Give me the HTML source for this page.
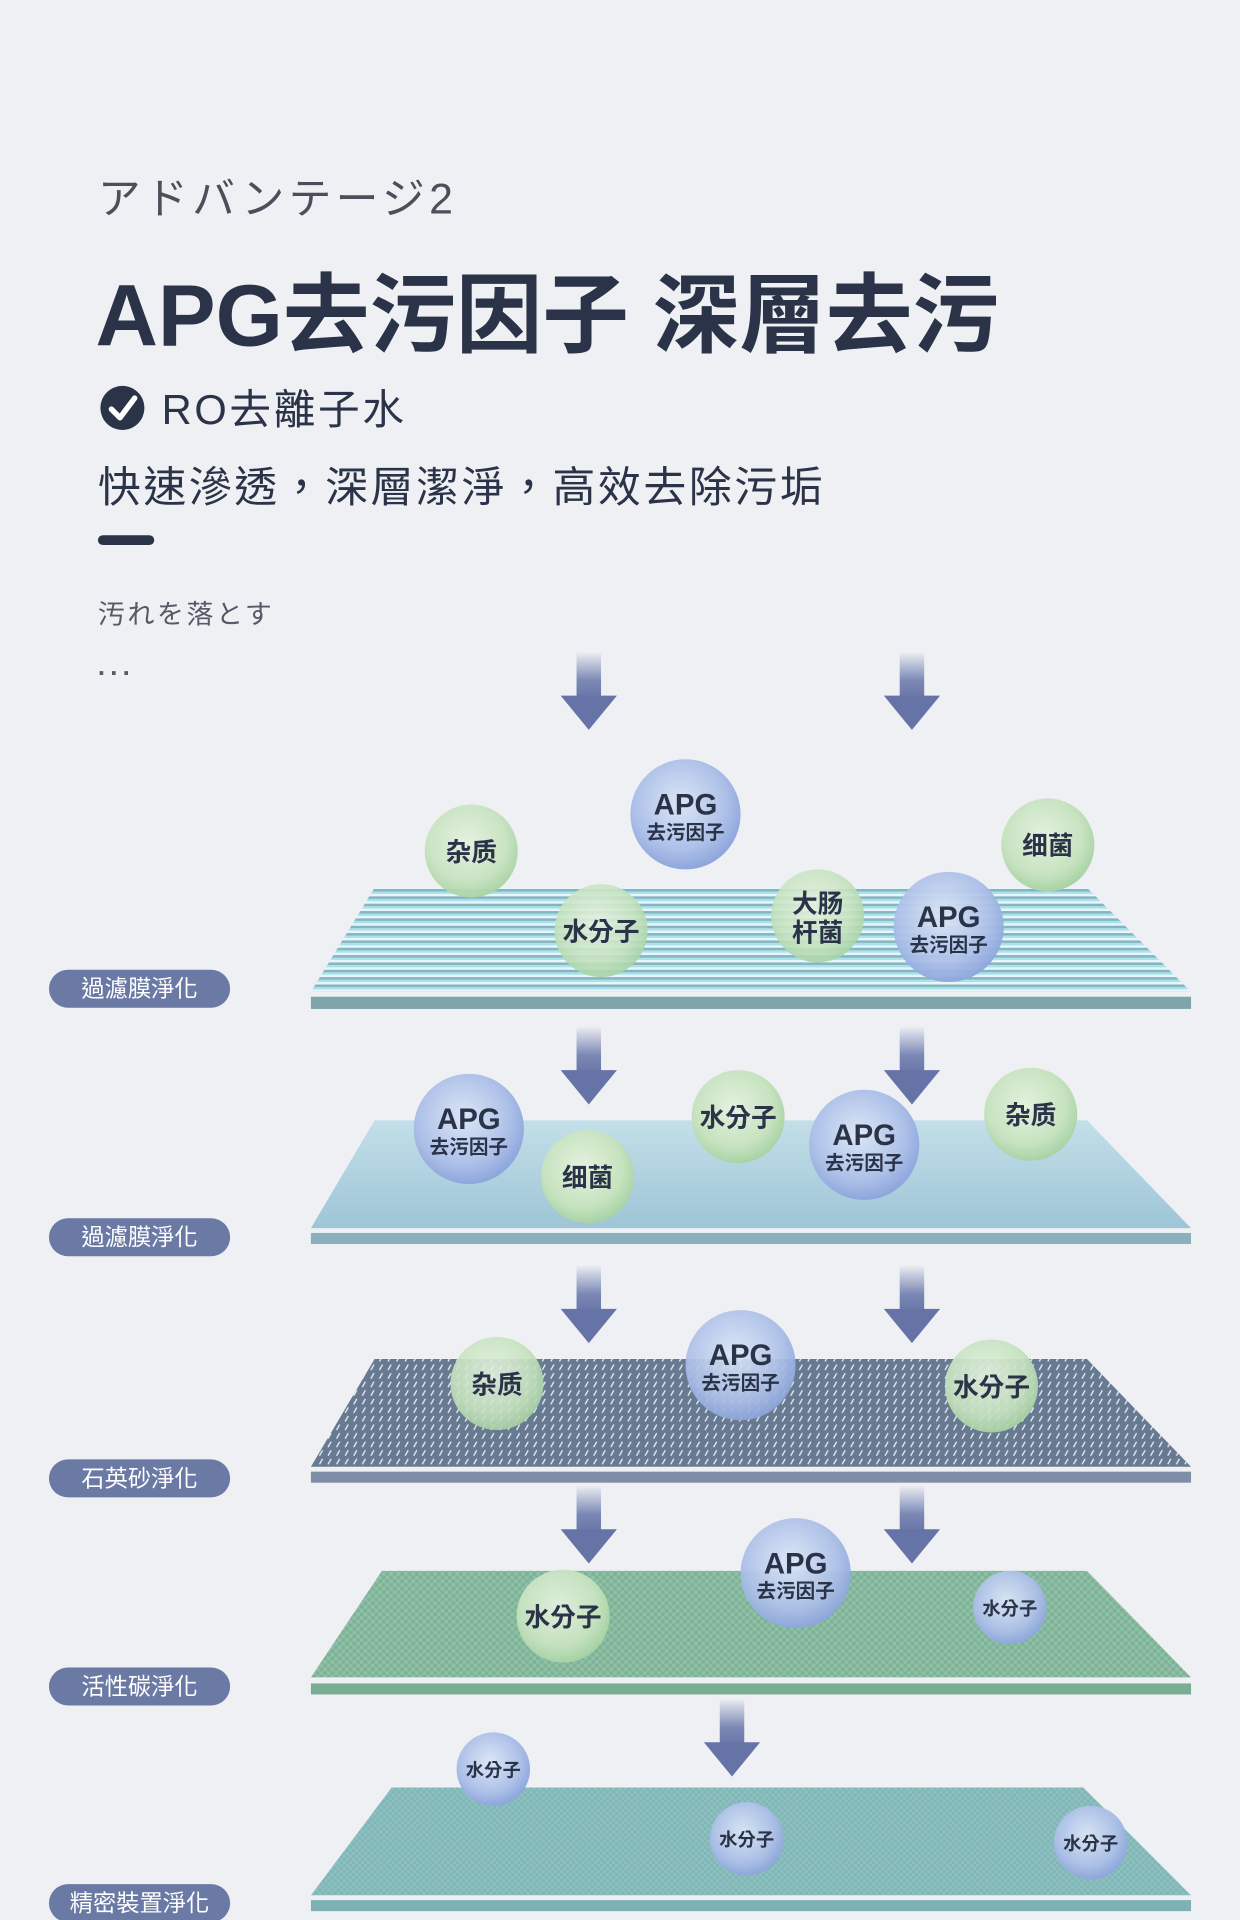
<!DOCTYPE html>
<html><head><meta charset="utf-8"><style>
html,body{margin:0;padding:0;background:#eef0f4;}
svg{display:block;}
text{font-family:"Liberation Sans","Noto Sans CJK TC","Noto Sans CJK JP",sans-serif;}
</style></head><body>
<svg width="1240" height="1920" viewBox="0 0 1013 1568" xmlns="http://www.w3.org/2000/svg">
<defs>
<pattern id="stripe" width="10" height="6" patternUnits="userSpaceOnUse">
<rect width="10" height="6" fill="#e6f6fa"/><rect y="0" width="10" height="2.2" fill="#86b5c0"/><rect y="2.2" width="10" height="1.8" fill="#a9e2ee"/>
</pattern>
<pattern id="dash" width="7" height="7" patternUnits="userSpaceOnUse">
<rect width="7" height="7" fill="#687a92"/><line x1="2" y1="6" x2="4.5" y2="1.5" stroke="#e8edf3" stroke-width="1.1"/>
</pattern>
<pattern id="check" width="6" height="6" patternUnits="userSpaceOnUse">
<rect width="6" height="6" fill="#7db296"/><rect width="3" height="3" fill="#90c0a7"/><rect x="3" y="3" width="3" height="3" fill="#90c0a7"/>
</pattern>
<pattern id="check2" width="5" height="5" patternUnits="userSpaceOnUse">
<rect width="5" height="5" fill="#7fb6b6"/><rect width="2.5" height="2.5" fill="#8fc0c1"/><rect x="2.5" y="2.5" width="2.5" height="2.5" fill="#8fc0c1"/>
</pattern>
<linearGradient id="l2" x1="0" y1="0" x2="0" y2="1"><stop offset="0" stop-color="#c3dfe9"/><stop offset="1" stop-color="#9ec5d6"/></linearGradient>
<linearGradient id="arr" x1="0" y1="0" x2="0" y2="1"><stop offset="0" stop-color="#eef0f4"/><stop offset="0.6" stop-color="#7b87b4"/><stop offset="1" stop-color="#6673a6"/></linearGradient>
<radialGradient id="gb" cx="0.45" cy="0.4" r="0.6"><stop offset="0" stop-color="#e4f1df"/><stop offset="0.7" stop-color="#c7e3c0"/><stop offset="1" stop-color="#a9d3a5"/></radialGradient>
<radialGradient id="bb" cx="0.45" cy="0.4" r="0.6"><stop offset="0" stop-color="#dbe6f6"/><stop offset="0.7" stop-color="#adc0e8"/><stop offset="1" stop-color="#8ea6dc"/></radialGradient>
<g id="arrow"><rect x="-10" y="0" width="20" height="40" fill="url(#arr)"/><polygon points="-23,36 23,36 0,64" fill="#6673a6"/></g>
</defs>
<rect width="1013" height="1568" fill="#eef0f4"/>

<text x="80" y="174" font-size="35" fill="#4a4f5c" textLength="290" lengthAdjust="spacing">アドバンテージ2</text>
<text x="78" y="282" font-size="71" font-weight="bold" fill="#2a3347" textLength="738" lengthAdjust="spacingAndGlyphs">APG去污因子 深層去污</text>
<circle cx="100" cy="333" r="18" fill="#2a3347"/>
<polyline points="91,334 98,341 110,325" fill="none" stroke="#fff" stroke-width="4.5" stroke-linecap="round" stroke-linejoin="round"/>
<text x="132" y="346" font-size="34" fill="#2a3347" textLength="198" lengthAdjust="spacing">RO去離子水</text>
<text x="80" y="410" font-size="35" fill="#2a3347" textLength="592" lengthAdjust="spacing">快速滲透，深層潔淨，高效去除污垢</text>
<rect x="80" y="437" width="46" height="8" rx="4" fill="#2a3347"/>
<text x="80" y="509" font-size="22" fill="#555a66" textLength="142" lengthAdjust="spacing">汚れを落とす</text>
<text x="80" y="551" font-size="21" fill="#555a66" font-weight="bold" textLength="26" lengthAdjust="spacing">...</text>

<g fill="#6b79a5">
<rect x="40" y="792" width="148" height="31" rx="15.5"/>
<rect x="40" y="995" width="148" height="31" rx="15.5"/>
<rect x="40" y="1192" width="148" height="31" rx="15.5"/>
<rect x="40" y="1362" width="148" height="31" rx="15.5"/>
<rect x="40" y="1539" width="148" height="31" rx="15.5"/>
</g>
<g fill="#fff" font-size="19" text-anchor="middle">
<text x="114" y="814">過濾膜淨化</text>
<text x="114" y="1017">過濾膜淨化</text>
<text x="114" y="1214">石英砂淨化</text>
<text x="114" y="1384">活性碳淨化</text>
<text x="114" y="1561">精密裝置淨化</text>
</g>

<polygon points="306,725 888,725 973,810 254,810" fill="url(#stripe)"/>
<rect x="254" y="814" width="719" height="10" fill="#7fa5aa"/>
<polygon points="306,915 888,915 973,1003 254,1003" fill="url(#l2)"/>
<rect x="254" y="1007" width="719" height="9" fill="#8ab0bc"/>
<polygon points="306,1110 888,1110 973,1198 254,1198" fill="url(#dash)"/>
<rect x="254" y="1202" width="719" height="9" fill="#7f8da6"/>
<polygon points="312,1283 888,1283 973,1370 254,1370" fill="url(#check)"/>
<rect x="254" y="1375" width="719" height="9" fill="#7aae93"/>
<polygon points="320,1460 885,1460 973,1548 254,1548" fill="url(#check2)"/>
<rect x="254" y="1552" width="719" height="9" fill="#7eb0b4"/>

<use href="#arrow" x="481" y="532"/><use href="#arrow" x="745" y="532"/>
<use href="#arrow" x="481" y="838"/><use href="#arrow" x="745" y="838"/>
<use href="#arrow" x="481" y="1033"/><use href="#arrow" x="745" y="1033"/>
<use href="#arrow" x="481" y="1213"/><use href="#arrow" x="745" y="1213"/>
<use href="#arrow" x="598" y="1387"/>

<g font-weight="bold" fill="#2a3347" text-anchor="middle">
<circle cx="385" cy="695" r="38" fill="url(#gb)" opacity="0.95"/><text x="385" y="703" font-size="21">杂质</text>
<circle cx="560" cy="665" r="45" fill="url(#bb)"/><text x="560" y="665" font-size="24">APG</text><text x="560" y="685" font-size="16">去污因子</text>
<circle cx="856" cy="690" r="38" fill="url(#gb)"/><text x="856" y="698" font-size="21">细菌</text>
<circle cx="491" cy="760" r="38" fill="url(#gb)" opacity="0.9"/><text x="491" y="768" font-size="21">水分子</text>
<circle cx="668" cy="748" r="38" fill="url(#gb)" opacity="0.9"/><text x="668" y="745" font-size="21">大肠</text><text x="668" y="769" font-size="21">杆菌</text>
<circle cx="775" cy="757" r="45" fill="url(#bb)" opacity="0.95"/><text x="775" y="757" font-size="24">APG</text><text x="775" y="777" font-size="16">去污因子</text>

<circle cx="383" cy="922" r="45" fill="url(#bb)"/><text x="383" y="922" font-size="24">APG</text><text x="383" y="942" font-size="16">去污因子</text>
<circle cx="480" cy="961" r="38" fill="url(#gb)"/><text x="480" y="969" font-size="21">细菌</text>
<circle cx="603" cy="912" r="38" fill="url(#gb)"/><text x="603" y="920" font-size="21">水分子</text>
<circle cx="706" cy="935" r="45" fill="url(#bb)"/><text x="706" y="935" font-size="24">APG</text><text x="706" y="955" font-size="16">去污因子</text>
<circle cx="842" cy="910" r="38" fill="url(#gb)"/><text x="842" y="918" font-size="21">杂质</text>

<circle cx="406" cy="1130" r="38" fill="url(#gb)" opacity="0.9"/><text x="406" y="1138" font-size="21">杂质</text>
<circle cx="605" cy="1115" r="45" fill="url(#bb)" opacity="0.92"/><text x="605" y="1115" font-size="24">APG</text><text x="605" y="1135" font-size="16">去污因子</text>
<circle cx="810" cy="1132" r="38" fill="url(#gb)" opacity="0.92"/><text x="810" y="1140" font-size="21">水分子</text>

<circle cx="460" cy="1320" r="38" fill="url(#gb)" opacity="0.95"/><text x="460" y="1328" font-size="21">水分子</text>
<circle cx="650" cy="1285" r="45" fill="url(#bb)" opacity="0.95"/><text x="650" y="1285" font-size="24">APG</text><text x="650" y="1305" font-size="16">去污因子</text>
<circle cx="825" cy="1313" r="30" fill="url(#bb)" opacity="0.95"/><text x="825" y="1319" font-size="15">水分子</text>

<circle cx="403" cy="1445" r="30" fill="url(#bb)"/><text x="403" y="1451" font-size="15">水分子</text>
<circle cx="610" cy="1502" r="30" fill="url(#bb)" opacity="0.95"/><text x="610" y="1508" font-size="15">水分子</text>
<circle cx="891" cy="1505" r="30" fill="url(#bb)" opacity="0.95"/><text x="891" y="1511" font-size="15">水分子</text>
</g>
</svg>
</body></html>
